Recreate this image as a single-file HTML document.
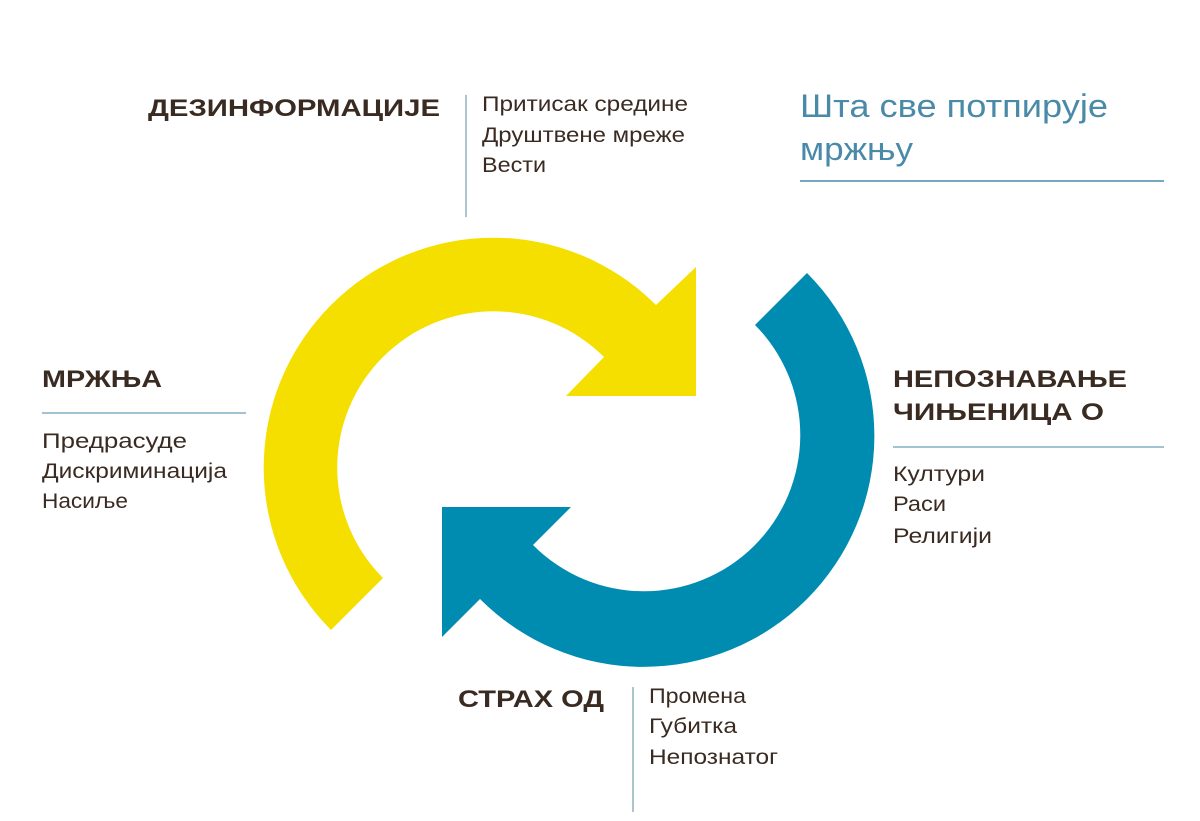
<!DOCTYPE html>
<html><head><meta charset="utf-8"><style>
html,body{margin:0;padding:0;background:#fff;}
svg{display:block;}
.h{font-family:"Liberation Sans","DejaVu Sans",sans-serif;font-weight:bold;font-size:24px;fill:#3a2b22;}
.t{font-family:"Liberation Sans","DejaVu Sans",sans-serif;font-size:21px;fill:#3a2b22;}
.ti{font-family:"Liberation Sans","DejaVu Sans",sans-serif;font-size:32px;fill:#4a8aa8;}
</style></head><body>
<svg width="1200" height="821" viewBox="0 0 1200 821" xmlns="http://www.w3.org/2000/svg">
<rect width="1200" height="821" fill="#fff"/>
<path d="M331,630 A228,228 0 1 1 656,305 L696,267 L696,396 L566,396 L604,357 A153,153 0 1 0 383,578 Z" fill="#f5df00"/>
<path d="M807,273 A228,228 0 1 1 480,599 L442,637 L442,507 L571,507 L533,545 A153,153 0 1 0 755,325 Z" fill="#008bb0"/>

<text class="h" x="148" y="116" textLength="292" lengthAdjust="spacingAndGlyphs">ДЕЗИНФОРМАЦИЈЕ</text>
<line x1="466" y1="95" x2="466" y2="217" stroke="#8fb0bf" stroke-width="1.5"/>
<text class="t" x="482" y="111" textLength="206" lengthAdjust="spacingAndGlyphs">Притисак средине</text>
<text class="t" x="482" y="142" textLength="203" lengthAdjust="spacingAndGlyphs">Друштвене мреже</text>
<text class="t" x="482" y="172" textLength="64" lengthAdjust="spacingAndGlyphs">Вести</text>

<text class="ti" x="800" y="117" textLength="308" lengthAdjust="spacingAndGlyphs">Шта све потпирује</text>
<text class="ti" x="800" y="160" textLength="113" lengthAdjust="spacingAndGlyphs">мржњу</text>
<line x1="800" y1="181" x2="1164" y2="181" stroke="#4a8aa8" stroke-width="1.5"/>

<text class="h" x="42" y="387" textLength="120" lengthAdjust="spacingAndGlyphs">МРЖЊА</text>
<line x1="42" y1="413" x2="246" y2="413" stroke="#6a9fb8" stroke-width="1.2"/>
<text class="t" x="42" y="448" textLength="145" lengthAdjust="spacingAndGlyphs">Предрасуде</text>
<text class="t" x="42" y="478" textLength="185" lengthAdjust="spacingAndGlyphs">Дискриминација</text>
<text class="t" x="42" y="508" textLength="86" lengthAdjust="spacingAndGlyphs">Насиље</text>

<text class="h" x="893" y="387" textLength="234" lengthAdjust="spacingAndGlyphs">НЕПОЗНАВАЊЕ</text>
<text class="h" x="893" y="420" textLength="211" lengthAdjust="spacingAndGlyphs">ЧИЊЕНИЦА О</text>
<line x1="893" y1="447" x2="1164" y2="447" stroke="#6a9fb8" stroke-width="1.2"/>
<text class="t" x="893" y="481" textLength="92" lengthAdjust="spacingAndGlyphs">Култури</text>
<text class="t" x="893" y="511" textLength="53" lengthAdjust="spacingAndGlyphs">Раси</text>
<text class="t" x="893" y="543" textLength="99" lengthAdjust="spacingAndGlyphs">Религији</text>

<text class="h" x="458" y="707" textLength="146" lengthAdjust="spacingAndGlyphs">СТРАХ ОД</text>
<line x1="633" y1="687" x2="633" y2="812" stroke="#8fb0bf" stroke-width="1.5"/>
<text class="t" x="649" y="703" textLength="97" lengthAdjust="spacingAndGlyphs">Промена</text>
<text class="t" x="649" y="733" textLength="88" lengthAdjust="spacingAndGlyphs">Губитка</text>
<text class="t" x="649" y="764" textLength="129" lengthAdjust="spacingAndGlyphs">Непознатог</text>
</svg>
</body></html>
